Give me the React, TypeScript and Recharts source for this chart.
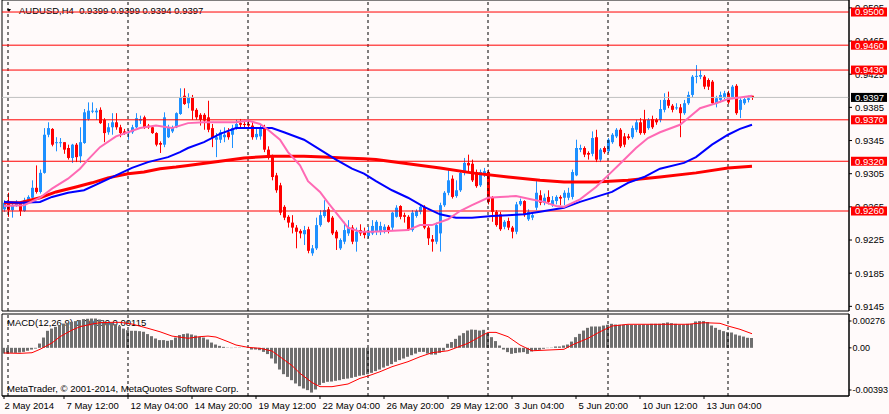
import React from 'react';
import { ComposedChart, Bar, Line, XAxis, YAxis, ReferenceLine, ReferenceArea } from 'recharts';

const FONT = '"Liberation Sans", Arial, sans-serif';
const FS = 9.5;
const BG = '#FFFAFA';

const openP = [
  0.9262, 0.9270, 0.9261, 0.9266, 0.9270, 0.9260, 0.9273, 0.9276, 0.9288, 0.9283,
  0.9306, 0.9352, 0.9359, 0.9342, 0.9342, 0.9343, 0.9336, 0.9324, 0.9340, 0.9326,
  0.9342, 0.9371, 0.9380, 0.9379, 0.9382, 0.9370, 0.9355, 0.9361, 0.9367, 0.9361,
  0.9356, 0.9354, 0.9355, 0.9361, 0.9369, 0.9373, 0.9363, 0.9361, 0.9354, 0.9342,
  0.9340, 0.9349, 0.9356, 0.9361, 0.9377, 0.9399, 0.9390, 0.9397, 0.9382, 0.9376,
  0.9376, 0.9373, 0.9360, 0.9346, 0.9346, 0.9349, 0.9355, 0.9352, 0.9360, 0.9366,
  0.9365, 0.9365, 0.9363, 0.9349, 0.9350, 0.9360, 0.9334, 0.9325, 0.9303, 0.9291,
  0.9265, 0.9253, 0.9246, 0.9240, 0.9236, 0.9232, 0.9238, 0.9209, 0.9215, 0.9243,
  0.9254, 0.9262, 0.9252, 0.9235, 0.9215, 0.9223, 0.9233, 0.9240, 0.9223, 0.9237,
  0.9235, 0.9230, 0.9233, 0.9235, 0.9235, 0.9237, 0.9241, 0.9240, 0.9253, 0.9266,
  0.9255, 0.9253, 0.9237, 0.9254, 0.9259, 0.9265, 0.9240, 0.9226, 0.9223, 0.9233,
  0.9267, 0.9282, 0.9299, 0.9278, 0.9285, 0.9306, 0.9318, 0.9317, 0.9307, 0.9291,
  0.9303, 0.9307, 0.9276, 0.9259, 0.9256, 0.9241, 0.9248, 0.9240, 0.9235, 0.9268,
  0.9272, 0.9250, 0.9252, 0.9264, 0.9279, 0.9270, 0.9277, 0.9267, 0.9272, 0.9277,
  0.9276, 0.9276, 0.9277, 0.9303, 0.9334, 0.9336, 0.9330, 0.9329, 0.9349, 0.9322,
  0.9336, 0.9332, 0.9343, 0.9350, 0.9358, 0.9350, 0.9350, 0.9349, 0.9358, 0.9367,
  0.9370, 0.9360, 0.9371, 0.9370, 0.9370, 0.9382, 0.9394, 0.9387, 0.9384, 0.9385,
  0.9378, 0.9390, 0.9400, 0.9422, 0.9422, 0.9422, 0.9418, 0.9416, 0.9390, 0.9394,
  0.9397, 0.9402, 0.9397, 0.9411, 0.9382, 0.9390, 0.9394, 0.9399,
];
const highP = [
  0.9273, 0.9282, 0.9270, 0.9273, 0.9271, 0.9276, 0.9279, 0.9297, 0.9315, 0.9310,
  0.9360, 0.9367, 0.9360, 0.9349, 0.9348, 0.9343, 0.9340, 0.9341, 0.9342, 0.9361,
  0.9383, 0.9391, 0.9391, 0.9384, 0.9385, 0.9372, 0.9366, 0.9378, 0.9378, 0.9364,
  0.9359, 0.9358, 0.9364, 0.9378, 0.9375, 0.9375, 0.9365, 0.9363, 0.9355, 0.9344,
  0.9379, 0.9364, 0.9363, 0.9379, 0.9408, 0.9408, 0.9402, 0.9400, 0.9384, 0.9378,
  0.9378, 0.9393, 0.9365, 0.9354, 0.9358, 0.9361, 0.9360, 0.9364, 0.9370, 0.9371,
  0.9370, 0.9370, 0.9367, 0.9360, 0.9364, 0.9364, 0.9338, 0.9328, 0.9306, 0.9294,
  0.9267, 0.9255, 0.9255, 0.9243, 0.9238, 0.9242, 0.9241, 0.9219, 0.9252, 0.9261,
  0.9273, 0.9265, 0.9254, 0.9237, 0.9227, 0.9247, 0.9249, 0.9243, 0.9240, 0.9244,
  0.9240, 0.9241, 0.9249, 0.9249, 0.9247, 0.9244, 0.9243, 0.9259, 0.9267, 0.9267,
  0.9258, 0.9255, 0.9261, 0.9262, 0.9267, 0.9267, 0.9242, 0.9231, 0.9246, 0.9270,
  0.9284, 0.9310, 0.9303, 0.9297, 0.9308, 0.9324, 0.9328, 0.9322, 0.9310, 0.9310,
  0.9312, 0.9310, 0.9278, 0.9261, 0.9259, 0.9249, 0.9252, 0.9242, 0.9271, 0.9275,
  0.9273, 0.9262, 0.9258, 0.9296, 0.9285, 0.9281, 0.9285, 0.9278, 0.9279, 0.9279,
  0.9285, 0.9288, 0.9310, 0.9346, 0.9340, 0.9338, 0.9332, 0.9356, 0.9358, 0.9336,
  0.9338, 0.9348, 0.9354, 0.9360, 0.9360, 0.9354, 0.9353, 0.9363, 0.9370, 0.9372,
  0.9382, 0.9372, 0.9375, 0.9372, 0.9394, 0.9402, 0.9404, 0.9389, 0.9390, 0.9389,
  0.9394, 0.9404, 0.9424, 0.9436, 0.9430, 0.9424, 0.9420, 0.9418, 0.9399, 0.9404,
  0.9405, 0.9405, 0.9412, 0.9413, 0.9396, 0.9397, 0.9399, 0.9399,
];
const lowP = [
  0.9259, 0.9253, 0.9252, 0.9265, 0.9254, 0.9259, 0.9272, 0.9275, 0.9281, 0.9281,
  0.9305, 0.9349, 0.9338, 0.9332, 0.9337, 0.9329, 0.9322, 0.9318, 0.9319, 0.9318,
  0.9341, 0.9369, 0.9378, 0.9370, 0.9365, 0.9343, 0.9352, 0.9352, 0.9358, 0.9349,
  0.9352, 0.9346, 0.9353, 0.9360, 0.9365, 0.9359, 0.9359, 0.9353, 0.9338, 0.9330,
  0.9337, 0.9348, 0.9354, 0.9360, 0.9376, 0.9388, 0.9384, 0.9370, 0.9370, 0.9363,
  0.9358, 0.9355, 0.9337, 0.9325, 0.9342, 0.9343, 0.9346, 0.9336, 0.9358, 0.9361,
  0.9361, 0.9359, 0.9346, 0.9346, 0.9346, 0.9331, 0.9322, 0.9297, 0.9282, 0.9255,
  0.9249, 0.9240, 0.9233, 0.9215, 0.9227, 0.9219, 0.9209, 0.9206, 0.9213, 0.9241,
  0.9252, 0.9246, 0.9231, 0.9213, 0.9213, 0.9220, 0.9230, 0.9220, 0.9211, 0.9230,
  0.9227, 0.9227, 0.9231, 0.9231, 0.9231, 0.9233, 0.9233, 0.9237, 0.9252, 0.9250,
  0.9246, 0.9236, 0.9235, 0.9252, 0.9256, 0.9238, 0.9219, 0.9211, 0.9220, 0.9211,
  0.9265, 0.9279, 0.9275, 0.9276, 0.9283, 0.9303, 0.9307, 0.9295, 0.9288, 0.9289,
  0.9301, 0.9268, 0.9247, 0.9241, 0.9236, 0.9238, 0.9237, 0.9227, 0.9232, 0.9266,
  0.9253, 0.9248, 0.9249, 0.9261, 0.9267, 0.9267, 0.9268, 0.9265, 0.9268, 0.9267,
  0.9267, 0.9273, 0.9274, 0.9302, 0.9331, 0.9325, 0.9322, 0.9326, 0.9319, 0.9319,
  0.9329, 0.9330, 0.9341, 0.9348, 0.9336, 0.9337, 0.9346, 0.9347, 0.9355, 0.9352,
  0.9352, 0.9358, 0.9359, 0.9364, 0.9367, 0.9379, 0.9384, 0.9379, 0.9382, 0.9349,
  0.9376, 0.9388, 0.9397, 0.9414, 0.9419, 0.9407, 0.9406, 0.9388, 0.9385, 0.9391,
  0.9395, 0.9389, 0.9395, 0.9376, 0.9372, 0.9388, 0.9391, 0.9394,
];
const closeP = [
  0.9270, 0.9261, 0.9267, 0.9270, 0.9260, 0.9273, 0.9277, 0.9288, 0.9283, 0.9306,
  0.9352, 0.9360, 0.9340, 0.9343, 0.9343, 0.9334, 0.9324, 0.9340, 0.9325, 0.9343,
  0.9379, 0.9381, 0.9381, 0.9381, 0.9366, 0.9354, 0.9361, 0.9367, 0.9361, 0.9354,
  0.9354, 0.9355, 0.9361, 0.9372, 0.9371, 0.9361, 0.9361, 0.9354, 0.9340, 0.9340,
  0.9373, 0.9361, 0.9361, 0.9378, 0.9397, 0.9389, 0.9397, 0.9381, 0.9373, 0.9370,
  0.9369, 0.9358, 0.9348, 0.9349, 0.9355, 0.9352, 0.9349, 0.9360, 0.9365, 0.9364,
  0.9364, 0.9363, 0.9349, 0.9353, 0.9360, 0.9334, 0.9324, 0.9301, 0.9285, 0.9258,
  0.9252, 0.9246, 0.9240, 0.9235, 0.9233, 0.9237, 0.9212, 0.9215, 0.9243, 0.9255,
  0.9261, 0.9247, 0.9233, 0.9227, 0.9225, 0.9237, 0.9240, 0.9223, 0.9235, 0.9233,
  0.9231, 0.9235, 0.9242, 0.9247, 0.9242, 0.9241, 0.9237, 0.9258, 0.9264, 0.9253,
  0.9253, 0.9237, 0.9258, 0.9260, 0.9265, 0.9240, 0.9227, 0.9223, 0.9243, 0.9267,
  0.9282, 0.9297, 0.9277, 0.9285, 0.9306, 0.9318, 0.9315, 0.9297, 0.9290, 0.9307,
  0.9308, 0.9271, 0.9259, 0.9243, 0.9238, 0.9247, 0.9240, 0.9235, 0.9268, 0.9272,
  0.9255, 0.9259, 0.9255, 0.9282, 0.9270, 0.9276, 0.9271, 0.9273, 0.9277, 0.9275,
  0.9282, 0.9282, 0.9307, 0.9336, 0.9336, 0.9328, 0.9328, 0.9348, 0.9322, 0.9334,
  0.9331, 0.9346, 0.9352, 0.9358, 0.9338, 0.9340, 0.9348, 0.9360, 0.9367, 0.9354,
  0.9354, 0.9370, 0.9361, 0.9367, 0.9383, 0.9394, 0.9387, 0.9382, 0.9385, 0.9378,
  0.9390, 0.9400, 0.9422, 0.9423, 0.9424, 0.9410, 0.9410, 0.9390, 0.9396, 0.9400,
  0.9402, 0.9391, 0.9410, 0.9378, 0.9394, 0.9395, 0.9396, 0.9397,
];

const pinkIdx = [0, 5, 9, 12, 16, 19, 21, 24, 28, 31, 34, 38, 42, 44, 46, 50, 54, 58, 61, 64, 66, 69, 71, 74, 76, 79, 81, 84, 86, 89, 92, 96, 101, 104, 107, 111, 114, 117, 121, 124, 128, 132, 135, 138, 140, 144, 148, 151, 154, 158, 161, 164, 169, 171, 174, 178, 181, 184, 187];
const pinkVal = [0.9266, 0.9267, 0.9276, 0.9287, 0.9299, 0.9311, 0.9322, 0.9337, 0.9350, 0.9355, 0.9360, 0.9363, 0.9360, 0.9363, 0.9366, 0.9367, 0.9367, 0.9367, 0.9369, 0.9365, 0.9358, 0.9346, 0.9331, 0.9315, 0.9296, 0.9283, 0.9270, 0.9252, 0.9240, 0.9235, 0.9235, 0.9236, 0.9237, 0.9243, 0.9243, 0.9250, 0.9260, 0.9267, 0.9276, 0.9277, 0.9278, 0.9274, 0.9271, 0.9266, 0.9265, 0.9274, 0.9289, 0.9303, 0.9317, 0.9336, 0.9348, 0.9355, 0.9364, 0.9372, 0.9384, 0.9390, 0.9395, 0.9397, 0.9399];

const blueIdx = [0, 4, 9, 12, 16, 20, 24, 28, 32, 36, 41, 44, 46, 50, 54, 58, 62, 67, 70, 75, 79, 83, 87, 90, 93, 97, 101, 105, 109, 113, 117, 122, 126, 130, 134, 140, 144, 148, 152, 156, 160, 164, 170, 173, 177, 181, 184, 187];
const blueVal = [0.9271, 0.9270, 0.9271, 0.9277, 0.9282, 0.9285, 0.9294, 0.9303, 0.9312, 0.9319, 0.9325, 0.9331, 0.9336, 0.9343, 0.9353, 0.9360, 0.9360, 0.9360, 0.9355, 0.9346, 0.9334, 0.9322, 0.9311, 0.9305, 0.9296, 0.9285, 0.9276, 0.9265, 0.9256, 0.9252, 0.9252, 0.9254, 0.9255, 0.9256, 0.9259, 0.9264, 0.9271, 0.9277, 0.9283, 0.9294, 0.9301, 0.9311, 0.9318, 0.9325, 0.9340, 0.9352, 0.9359, 0.9364];

const redIdx = [0, 4, 9, 13, 18, 22, 26, 31, 35, 39, 43, 46, 54, 60, 67, 75, 80, 85, 90, 93, 101, 109, 117, 126, 134, 140, 148, 156, 164, 173, 181, 187];
const redVal = [0.9270, 0.9270, 0.9276, 0.9283, 0.9289, 0.9294, 0.9300, 0.9305, 0.9307, 0.9311, 0.9313, 0.9315, 0.9320, 0.9324, 0.9326, 0.9326, 0.9325, 0.9324, 0.9323, 0.9322, 0.9317, 0.9312, 0.9306, 0.9301, 0.9297, 0.9295, 0.9295, 0.9297, 0.9301, 0.9306, 0.9312, 0.9314];

const macdHist = [
  -0.00047, -0.00047, -0.00041, -0.00041, -0.00038, -0.00033, -0.00024, -0.00014, -0.00006, 0.00035,
  0.00084, 0.00139, 0.00157, 0.00171, 0.00185, 0.00198, 0.00204, 0.00212, 0.00218, 0.00226,
  0.00234, 0.00237, 0.00239, 0.00239, 0.00231, 0.00212, 0.00206, 0.00204, 0.00193, 0.00177,
  0.00157, 0.00144, 0.00139, 0.00139, 0.00136, 0.00131, 0.00112, 0.00095, 0.00076, 0.00063,
  0.00063, 0.00057, 0.00063, 0.00084, 0.00104, 0.00112, 0.00117, 0.00109, 0.00100, 0.00090,
  0.00084, 0.00068, 0.00043, 0.00027, 0.00016, 0.00008, 0.00002, -0.00002, 0.00002, 0.00002,
  0.00001, -0.00001, -0.00014, -0.00014, -0.00019, -0.00033, -0.00051, -0.00087, -0.00128, -0.00177,
  -0.00215, -0.00237, -0.00264, -0.00291, -0.00313, -0.00332, -0.00345, -0.00365, -0.00340, -0.00304,
  -0.00286, -0.00277, -0.00275, -0.00269, -0.00264, -0.00255, -0.00251, -0.00245, -0.00237, -0.00228,
  -0.00223, -0.00215, -0.00204, -0.00190, -0.00177, -0.00161, -0.00147, -0.00133, -0.00114, -0.00100,
  -0.00087, -0.00073, -0.00060, -0.00047, -0.00033, -0.00033, -0.00047, -0.00055, -0.00055, -0.00041,
  -0.00022, 0.00033, 0.00047, 0.00073, 0.00100, 0.00120, 0.00141, 0.00149, 0.00147, 0.00141,
  0.00147, 0.00120, 0.00087, 0.00055, 0.00019, -0.00014, -0.00035, -0.00049, -0.00043, -0.00038,
  -0.00035, -0.00049, -0.00030, -0.00022, -0.00016, -0.00008, -0.00002, 0.00002, 0.00011, 0.00011,
  0.00019, 0.00027, 0.00051, 0.00087, 0.00114, 0.00141, 0.00163, 0.00174, 0.00174, 0.00174,
  0.00182, 0.00188, 0.00196, 0.00190, 0.00188, 0.00188, 0.00188, 0.00188, 0.00188, 0.00188,
  0.00190, 0.00190, 0.00196, 0.00196, 0.00196, 0.00201, 0.00207, 0.00201, 0.00196, 0.00190,
  0.00190, 0.00196, 0.00196, 0.00215, 0.00218, 0.00218, 0.00210, 0.00182, 0.00163, 0.00147,
  0.00136, 0.00128, 0.00125, 0.00109, 0.00100, 0.00092, 0.00082, 0.00080,
];

const sigIdx = [0, 4, 7, 9, 12, 14, 17, 19, 22, 24, 27, 29, 32, 36, 39, 42, 46, 49, 51, 53, 56, 58, 61, 64, 67, 69, 72, 74, 77, 79, 82, 86, 89, 91, 94, 97, 101, 104, 107, 111, 116, 119, 121, 123, 126, 129, 132, 136, 140, 142, 146, 149, 152, 156, 163, 171, 175, 179, 181, 184, 187];
const sigVal = [-0.00042, -0.00045, -0.00040, -0.00012, 0.00040, 0.00091, 0.00145, 0.00172, 0.00194, 0.00205, 0.00208, 0.00208, 0.00194, 0.00159, 0.00131, 0.00096, 0.00078, 0.00091, 0.00096, 0.00088, 0.00050, 0.00023, 0.00004, -0.00004, -0.00026, -0.00073, -0.00145, -0.00208, -0.00283, -0.00317, -0.00317, -0.00295, -0.00249, -0.00230, -0.00195, -0.00154, -0.00113, -0.00073, -0.00040, -0.00024, 0.00037, 0.00091, 0.00126, 0.00126, 0.00091, 0.00023, -0.00024, -0.00018, -0.00012, 0.00023, 0.00078, 0.00131, 0.00178, 0.00192, 0.00192, 0.00192, 0.00205, 0.00200, 0.00178, 0.00151, 0.00115];

const levelLines = [0.9500, 0.9460, 0.9430, 0.9370, 0.9320, 0.9260];
const currentPrice = 0.9397;
const priceTicks = [0.9505, 0.9465, 0.9425, 0.9385, 0.9345, 0.9305, 0.9265, 0.9225, 0.9185, 0.9145];
const macdTicks = [0.00276, 0, -0.00393];
const dateTickIdx = [0, 15, 31, 47, 63, 79, 95, 111, 127, 143, 159, 175];
const dateTickLabels = ['2 May 2014', '7 May 12:00', '12 May 04:00', '14 May 20:00', '19 May 12:00', '22 May 04:00', '26 May 20:00', '29 May 12:00', '3 Jun 04:00', '5 Jun 20:00', '10 Jun 12:00', '13 Jun 04:00'];
const gridIdx = [1, 31, 61, 91, 121, 151, 181];

const X_DOMAIN: [number, number] = [-0.5, 211.25];
const PRICE_DOMAIN: [number, number] = [0.91394, 0.95145];
const MACD_DOMAIN: [number, number] = [-0.00393, 0.00276];

type Row = { i: number; open: number; high: number; low: number; close: number; pink: number | null; blue: number | null; red: number | null; macd: number; signal: number | null };

const data: Row[] = openP.map((o, i) => ({
  i, open: o, high: highP[i], low: lowP[i], close: closeP[i],
  pink: null, blue: null, red: null, macd: macdHist[i], signal: null,
}));
pinkIdx.forEach((k, j) => { data[k].pink = pinkVal[j]; });
blueIdx.forEach((k, j) => { data[k].blue = blueVal[j]; });
redIdx.forEach((k, j) => { data[k].red = redVal[j]; });
sigIdx.forEach((k, j) => { data[k].signal = sigVal[j]; });

const last = data[data.length - 1];

function Candle(props: any) {
  const { x, y, width, height, payload } = props;
  if (x == null || y == null || !payload) return null;
  const { open, close, high, low } = payload;
  const up = close >= open;
  const color = up ? '#1E90FF' : '#FF0000';
  const top = Math.min(y, y + height);
  const h = Math.abs(height);
  const cx = Math.round(x + width / 2) + 0.5;
  const ppu = high > low ? h / (high - low) : 0;
  const yOf = (p: number) => top + (high - p) * ppu;
  const bTop = yOf(Math.max(open, close));
  const bBot = yOf(Math.min(open, close));
  const bh = Math.max(1, bBot - bTop);
  return (
    <g>
      <line x1={cx} x2={cx} y1={top} y2={top + Math.max(h, 1)} stroke={color} strokeWidth={1} />
      <rect x={cx - 1.5} y={bTop} width={3} height={bh} fill={color} />
    </g>
  );
}

function PriceTag(props: any) {
  const { viewBox, text, bg } = props;
  if (!viewBox) return null;
  const yy = viewBox.y;
  const xx = viewBox.x + viewBox.width;
  return (
    <g>
      <rect x={xx + 2} y={yy - 4.5} width={36} height={9} fill={bg} />
      <text x={xx + 6} y={yy} dy="0.36em" fill="#FFFFFF" fontSize={FS} fontFamily={FONT}>{text}</text>
    </g>
  );
}

function DateTick(props: any) {
  const { x, y, payload } = props;
  const k = dateTickIdx.indexOf(payload.value);
  const label = k >= 0 ? dateTickLabels[k] : '';
  return (
    <text x={x + (payload.value === 0 ? 0.5 : 2.5)} y={y} dy="0.71em" textAnchor="start" fontSize={FS} fontFamily={FONT} fill="#000">{label}</text>
  );
}

function MacdTick(props: any) {
  const { x, y, payload } = props;
  const v = payload.value;
  const off = v === macdTicks[0] ? 7 : v === macdTicks[2] ? -6 : 0;
  const yy = y + off;
  return (
    <g>
      <line x1={x - 6} x2={x - 3.5} y1={yy} y2={yy} stroke="#000" />
      <text x={x - 2.5} y={yy} dy="0.355em" textAnchor="start" fontSize={9} fontFamily={FONT} fill="#000">{v === 0 ? '0.00' : v.toFixed(5)}</text>
    </g>
  );
}

const textStyle: React.CSSProperties = {
  position: 'absolute', fontFamily: FONT, fontSize: FS, lineHeight: '12px', color: '#000', whiteSpace: 'pre',
};

export default function App() {
  const title = `AUDUSD,H4  ${last.open.toFixed(4)} ${last.high.toFixed(4)} ${last.low.toFixed(4)} ${last.close.toFixed(4)}`;
  const macdLabel = `MACD(12,26,9) ${last.macd.toFixed(5)} ${(last.signal ?? 0).toFixed(5)}`;
  return (
    <div style={{ position: 'fixed', left: 0, top: 0, width: 889, height: 414, background: BG, overflow: 'hidden' }}>
      <div style={{ position: 'absolute', left: 7, top: 9, width: 0, height: 0, borderLeft: '2.5px solid transparent', borderRight: '2.5px solid transparent', borderTop: '3.5px solid #000' }} />
      <div style={{ ...textStyle, left: 19, top: 4.8 }}>{title}</div>
      <div style={{ ...textStyle, left: 7, top: 316.5 }}>{macdLabel}</div>
      <div style={{ ...textStyle, left: 7, top: 383.3 }}>MetaTrader, © 2001-2014, MetaQuotes Software Corp.</div>

      <div style={{ position: 'absolute', left: 0, top: 0 }}>
        <ComposedChart width={889} height={312} data={data} margin={{ top: 0, right: 0, bottom: 1, left: 2 }}>
          <XAxis type="number" dataKey="i" domain={X_DOMAIN} allowDataOverflow hide />
          <YAxis orientation="right" domain={PRICE_DOMAIN} allowDataOverflow ticks={priceTicks} interval={0} width={40}
            tickSize={3} tickMargin={3} axisLine={{ stroke: '#000' }} tickLine={{ stroke: '#000' }}
            tick={{ fontSize: FS, fontFamily: FONT, fill: '#000' }} tickFormatter={(v: number) => v.toFixed(4)} />
          {gridIdx.map((g) => (
            <ReferenceLine key={'g' + g} x={g} stroke="#000" strokeDasharray="3 3" />
          ))}
          <Bar dataKey={(d: Row) => [d.low, d.high]} barSize={3} isAnimationActive={false} shape={(p: any) => <Candle {...p} />} />
          {levelLines.map((v) => (
            <ReferenceLine key={'l' + v} y={v} stroke="#FF0000" strokeWidth={1} />
          ))}
          <ReferenceLine y={currentPrice} stroke="#C0C0C0" strokeWidth={1} />
          <Line type="linear" dataKey="red" stroke="#FF0000" strokeWidth={3} dot={false} activeDot={false} connectNulls isAnimationActive={false} />
          <Line type="linear" dataKey="blue" stroke="#0000FF" strokeWidth={2} dot={false} activeDot={false} connectNulls isAnimationActive={false} />
          <Line type="linear" dataKey="pink" stroke="#FF69B4" strokeWidth={2} dot={false} activeDot={false} connectNulls isAnimationActive={false} />
          <ReferenceArea x1={X_DOMAIN[0]} x2={X_DOMAIN[1]} y1={PRICE_DOMAIN[0]} y2={PRICE_DOMAIN[1]} fill="none" fillOpacity={0} stroke="#000" strokeWidth={1} />
        </ComposedChart>
      </div>

      <div style={{ position: 'absolute', left: 0, top: 0, pointerEvents: 'none' }}>
        <ComposedChart width={889} height={312} data={data} margin={{ top: 0, right: 40, bottom: 1, left: 2 }}>
          <XAxis type="number" dataKey="i" domain={X_DOMAIN} allowDataOverflow hide />
          <YAxis domain={PRICE_DOMAIN} allowDataOverflow hide />
          {levelLines.map((v) => (
            <ReferenceLine key={'t' + v} y={v} stroke="#FF0000" strokeOpacity={0}
              label={<PriceTag text={v.toFixed(4)} bg="#FF0000" />} />
          ))}
          <ReferenceLine y={currentPrice} stroke="#000" strokeOpacity={0} label={<PriceTag text={currentPrice.toFixed(4)} bg="#000000" />} />
        </ComposedChart>
      </div>

      <div style={{ position: 'absolute', left: 0, top: 313 }}>
        <ComposedChart width={889} height={101} data={data} margin={{ top: 1, right: 0, bottom: 0, left: 2 }}>
          <XAxis type="number" dataKey="i" domain={X_DOMAIN} allowDataOverflow ticks={dateTickIdx} interval={0} height={18}
            tickSize={3} tickMargin={3} axisLine={{ stroke: '#000' }} tickLine={{ stroke: '#000' }} tick={<DateTick />} />
          <YAxis orientation="right" domain={MACD_DOMAIN} allowDataOverflow ticks={macdTicks} interval={0} width={40}
            tickSize={3} tickMargin={3} axisLine={{ stroke: '#000' }} tickLine={false} tick={<MacdTick />} />
          {gridIdx.map((g) => (
            <ReferenceLine key={'mg' + g} x={g} stroke="#000" strokeDasharray="3 3" />
          ))}
          <Bar dataKey="macd" fill="#6E6E6E" barSize={3} isAnimationActive={false} />
          <Line type="linear" dataKey="signal" stroke="#FF0000" strokeWidth={1} dot={false} activeDot={false} connectNulls isAnimationActive={false} />
          <ReferenceArea x1={X_DOMAIN[0]} x2={X_DOMAIN[1]} y1={MACD_DOMAIN[0]} y2={MACD_DOMAIN[1]} fill="none" fillOpacity={0} stroke="#000" strokeWidth={1} />
        </ComposedChart>
      </div>
    </div>
  );
}
